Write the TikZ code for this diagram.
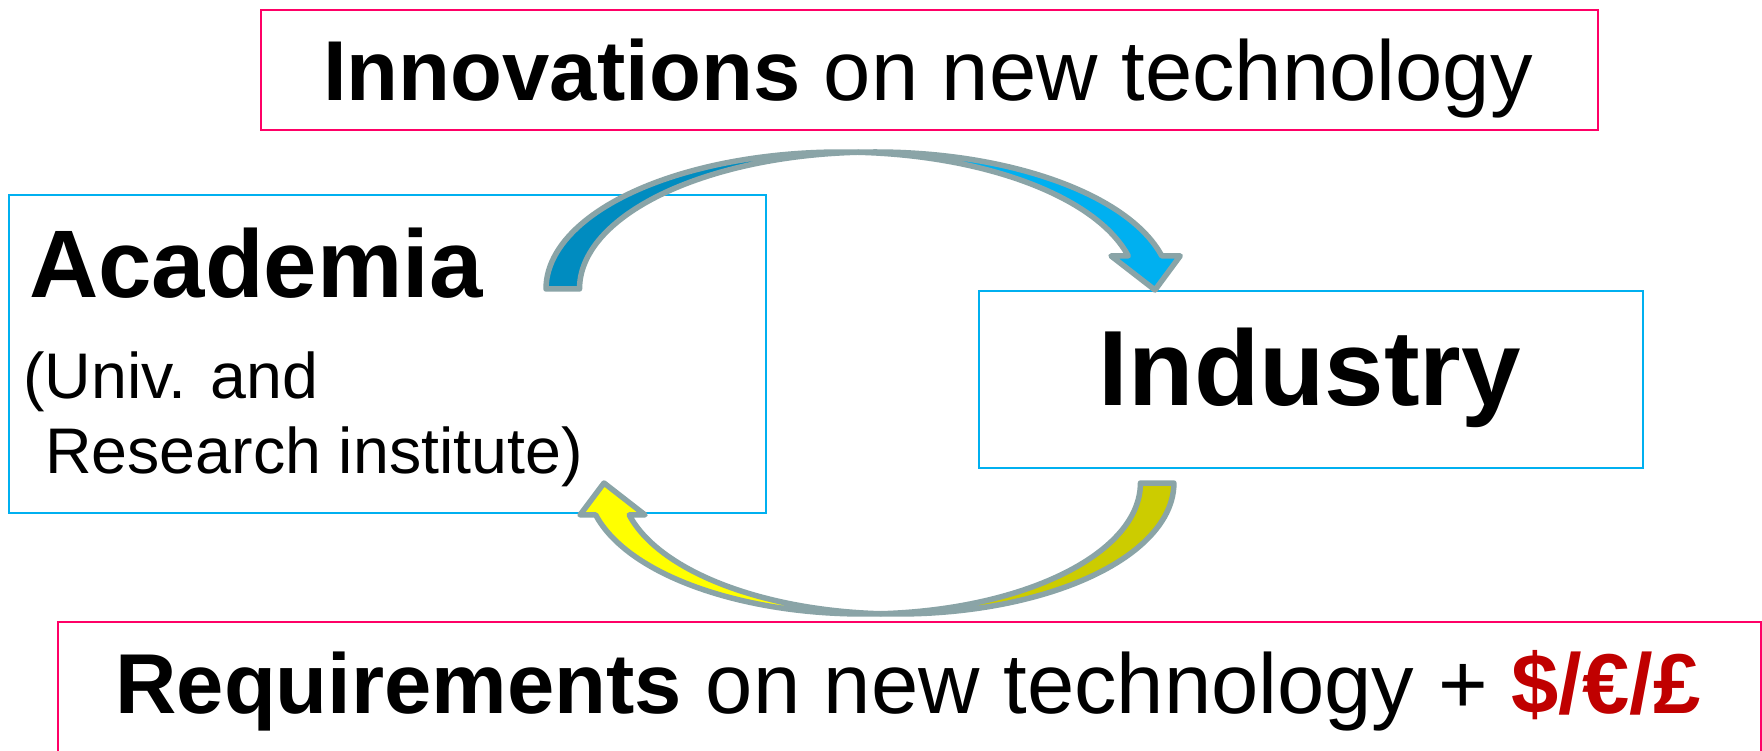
\documentclass[tikz,border=0pt]{standalone}
\usepackage{fontspec}
\setmainfont{Liberation Sans}
\definecolor{pinkline}{HTML}{FF0066}
\definecolor{cyanline}{HTML}{00B0F0}
\definecolor{arrowedge}{HTML}{8AA4A7}
\definecolor{bluedark}{HTML}{008CC0}
\definecolor{bluelight}{HTML}{00B0F0}
\definecolor{yellowdark}{HTML}{CCCC00}
\definecolor{yellowlight}{HTML}{FFFF00}
\definecolor{moneyred}{HTML}{C00000}
\begin{document}
\begin{tikzpicture}[x=1pt,y=-1pt,
  pinkbox/.style={draw=pinkline,line width=2pt,inner sep=0pt,anchor=north west},
  cyanbox/.style={draw=cyanline,line width=1.6pt,inner sep=0pt,anchor=north west},
  label/.style={inner sep=0pt,text=black},
  ribbon/.style={draw=arrowedge,line width=5.5pt,line join=round}]
\clip (0,0) rectangle (1762,751);
\fill[white] (0,0) rectangle (1762,751);

% frames
\node[pinkbox,minimum width=1337pt,minimum height=120pt] (innobox) at (260,9) {};
\node[cyanbox,minimum width=757pt,minimum height=318pt] (acadbox) at (8,194) {};
\node[cyanbox,minimum width=664pt,minimum height=177pt] (indbox) at (978,290) {};
\node[pinkbox,minimum width=1703pt,minimum height=160pt] (reqbox) at (57,621) {};

% texts
\node[label,anchor=base] (innotext) at (928,101)
  {\fontsize{85}{100}\selectfont\textbf{Innovations} on new technology};
\node[label,anchor=base west] (acadtext) at (29,298)
  {\fontsize{96}{110}\selectfont\textbf{Academia}};
\node[label,anchor=base west] (univtext) at (23,398)
  {\fontsize{64.5}{70}\selectfont(Univ. and};
\node[label,anchor=base west] (restext) at (27,473)
  {\fontsize{64.5}{70}\selectfont\ Research institute)};
\node[label,anchor=base] (indtext) at (1310,405)
  {\fontsize{107}{120}\selectfont\textbf{Industry}};
\node[label,anchor=base] (reqtext) at (908,713)
  {\fontsize{85}{100}\selectfont\textbf{Requirements} on new technology + \textcolor{moneyred}{\textbf{\$/€/£}}};

% curved arrow from Academia to Industry
\filldraw[ribbon,fill=bluedark] (546,289)
  arc[start angle=180,end angle=273.25,x radius=295.5,y radius=137]
  arc[start angle=266.75,end angle=180,x radius=295.5,y radius=137] -- cycle;
\filldraw[ribbon,fill=bluelight] (858.25,152.22)
  arc[start angle=266.75,end angle=346,x radius=295.5,y radius=137]
  -- (1180.2,255.9) -- (1155,290) coordinate (toptip) -- (1111,255.9) -- (1128.2,255.9)
  arc[start angle=346,end angle=273.25,x radius=295.5,y radius=137] -- cycle;

% curved arrow from Industry back to Academia
\filldraw[ribbon,fill=yellowdark] (1173.9,483)
  arc[start angle=0,end angle=93.47,x radius=276.5,y radius=131]
  arc[start angle=86.53,end angle=0,x radius=276.5,y radius=131] -- cycle;
\filldraw[ribbon,fill=yellowlight] (880.65,613.76)
  arc[start angle=93.47,end angle=165.9,x radius=276.5,y radius=131]
  -- (645,514.9) -- (604,483) coordinate (bottip) -- (580,514.9) -- (595.7,514.9)
  arc[start angle=165.9,end angle=86.53,x radius=276.5,y radius=131] -- cycle;
\end{tikzpicture}
\end{document}
